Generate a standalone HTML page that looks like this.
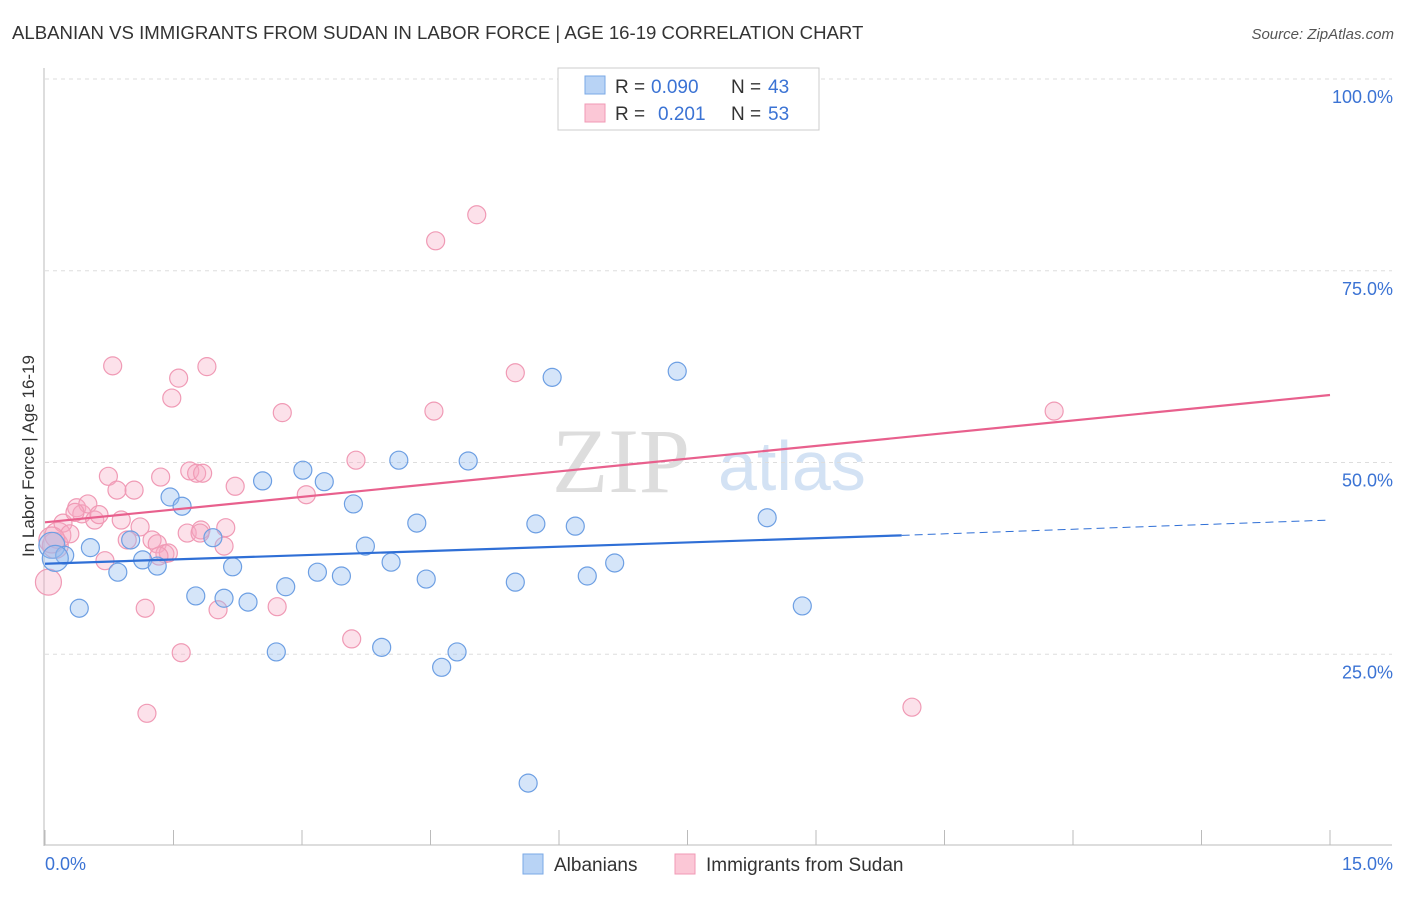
<!DOCTYPE html>
<html><head><meta charset="utf-8"><style>
body{margin:0;background:#fff;font-family:"Liberation Sans",sans-serif;}
</style></head><body>
<svg id="c" width="1406" height="892" xmlns="http://www.w3.org/2000/svg">
<text x="12" y="39" font-size="18.6" fill="#333">ALBANIAN VS IMMIGRANTS FROM SUDAN IN LABOR FORCE | AGE 16-19 CORRELATION CHART</text>
<text x="1394" y="39" font-size="15" fill="#555" font-style="italic" text-anchor="end">Source: ZipAtlas.com</text>
<text x="690" y="492" font-size="92" fill="#ddd" font-family="Liberation Serif" text-anchor="end">ZIP</text>
<text x="718" y="490" font-size="70" fill="#d3e2f4">atlas</text>
<g id="grid"></g><g id="marks"></g>
<text transform="translate(34,456) rotate(-90)" font-size="17" fill="#333" text-anchor="middle">In Labor Force | Age 16-19</text>
<g>
<rect x="558" y="68" width="261" height="62" fill="#fff" stroke="#ccc"/>
<rect x="585" y="76" width="20" height="18" fill="#b8d3f5" stroke="#7aa8e6"/>
<rect x="585" y="104" width="20" height="18" fill="#fbc7d6" stroke="#f09ab5"/>
<text x="615" y="93" font-size="19" fill="#333">R =</text>
<text x="651" y="93" font-size="19" fill="#3b73d4">0.090</text>
<text x="731" y="93" font-size="19" fill="#333">N =</text>
<text x="768" y="93" font-size="19" fill="#3b73d4">43</text>
<text x="615" y="120" font-size="19" fill="#333">R =</text>
<text x="658" y="120" font-size="19" fill="#3b73d4">0.201</text>
<text x="731" y="120" font-size="19" fill="#333">N =</text>
<text x="768" y="120" font-size="19" fill="#3b73d4">53</text>
</g>
<g>
<rect x="523" y="854" width="20" height="20" fill="#b8d3f5" stroke="#7aa8e6"/>
<text x="554" y="871" font-size="19" fill="#333">Albanians</text>
<rect x="675" y="854" width="20" height="20" fill="#fbc7d6" stroke="#f09ab5"/>
<text x="706" y="871" font-size="19" fill="#333">Immigrants from Sudan</text>
</g>
</svg>
<script>
const xTicks=[0,1.5,3,4.5,6,7.5,9,10.5,12,13.5,15];
const yTicks=[25,50,75,100];
const yTickLabels=["25.0%","50.0%","75.0%","100.0%"];
const blueX=[0.08,0.23,0.53,0.40,0.85,1.00,1.14,1.31,1.46,1.60,1.76,1.96,2.09,2.19,2.37,2.54,2.70,2.81,3.01,3.18,3.26,3.46,3.60,3.74,3.93,4.04,4.13,4.34,4.45,4.63,4.81,4.94,5.49,5.64,5.73,5.92,6.19,6.33,6.65,7.38,8.43,8.84,0.12];
const blueY=[39.2,37.9,38.9,31.0,35.7,39.9,37.3,36.5,45.5,44.3,32.6,40.2,32.3,36.4,31.8,47.6,25.3,33.8,49.0,35.7,47.5,35.2,44.6,39.1,25.9,37.0,50.3,42.1,34.8,23.3,25.3,50.2,34.4,8.2,42.0,61.1,41.7,35.2,36.9,61.9,42.8,31.3,37.5];
const pinkX=[0.04,0.12,0.15,0.21,0.29,0.37,0.43,0.50,0.58,0.63,0.70,0.74,0.79,0.84,0.89,0.96,1.04,1.11,1.17,1.19,1.25,1.31,1.35,1.40,1.44,1.48,1.56,1.59,1.66,1.69,1.77,1.82,1.84,1.89,2.02,2.09,2.11,2.22,2.71,2.77,3.05,3.58,3.63,4.54,4.56,5.04,5.49,11.78,10.12,0.35,1.81,1.33,0.08];
const pinkY=[34.4,39.2,40.5,42.1,40.7,44.1,43.3,44.6,42.5,43.2,37.2,48.2,62.6,46.4,42.5,39.9,46.4,41.6,31.0,17.3,39.9,39.4,48.1,38.1,38.2,58.4,61.0,25.2,40.8,48.9,48.6,41.2,48.6,62.5,30.8,39.1,41.5,46.9,31.2,56.5,45.8,27.0,50.3,56.7,78.9,82.3,61.7,56.7,18.1,43.5,40.8,37.8,39.9];
const blueTrend=[36.8,40.5,10.0,42.5];
const pinkTrend=[42.2,58.8];
const NS="http://www.w3.org/2000/svg";
const sx=v=>45+v/15*1285, sy=v=>846-v*7.67;
function mk(p,t,a){const e=document.createElementNS(NS,t);for(const k in a)e.setAttribute(k,a[k]);p.appendChild(e);return e;}
const g=document.getElementById('grid'), m=document.getElementById('marks');
yTicks.forEach((v,i)=>{
 const l=mk(g,'line',{x1:45,x2:1392,y1:sy(v),y2:sy(v),stroke:'#ddd','stroke-dasharray':'4,4'});
 
 
 const t=mk(g,'text',{x:1393,y:sy(v)+24,'font-size':18,fill:'#3b73d4','text-anchor':'end'});t.textContent=yTickLabels[i];
 
 
});
mk(g,'line',{x1:44,x2:44,y1:68,y2:846,stroke:'#bbb'});
mk(g,'line',{x1:44,x2:1392,y1:845,y2:845,stroke:'#bbb'});
xTicks.forEach(v=>{const l=mk(g,'line',{x1:sx(v),x2:sx(v),y1:830,y2:845,stroke:'#bbb'});
 
 });
let t0=mk(g,'text',{x:45,y:870,'font-size':18,fill:'#3b73d4'});t0.textContent='0.0%';


let t1=mk(g,'text',{x:1393,y:870,'font-size':18,fill:'#3b73d4','text-anchor':'end'});t1.textContent='15.0%';


function pts(X,Y,fill,stroke,name){X.forEach((x,i)=>{const r=(x<0.2)?13:9;
 const c=mk(m,'circle',{cx:sx(x),cy:sy(Y[i]),r:r,fill:fill,stroke:stroke,'stroke-width':1.2});
 
 });}
pts(pinkX,pinkY,'rgba(246,170,195,0.35)','#f09ab5','sudan-point');
pts(blueX,blueY,'rgba(150,190,240,0.4)','#6d9fe3','albanian-point');
const bl=mk(m,'line',{x1:sx(0),y1:sy(blueTrend[0]),x2:sx(blueTrend[2]),y2:sy(blueTrend[1]),stroke:'#2f6fd6','stroke-width':2.2});


const bd=mk(m,'line',{x1:sx(blueTrend[2]),y1:sy(blueTrend[1]),x2:sx(15),y2:sy(blueTrend[3]),stroke:'#2f6fd6','stroke-width':1,'stroke-dasharray':'8,5'});


const pl=mk(m,'line',{x1:sx(0),y1:sy(pinkTrend[0]),x2:sx(15),y2:sy(pinkTrend[1]),stroke:'#e8608d','stroke-width':2.2});


</script>
</body></html>
